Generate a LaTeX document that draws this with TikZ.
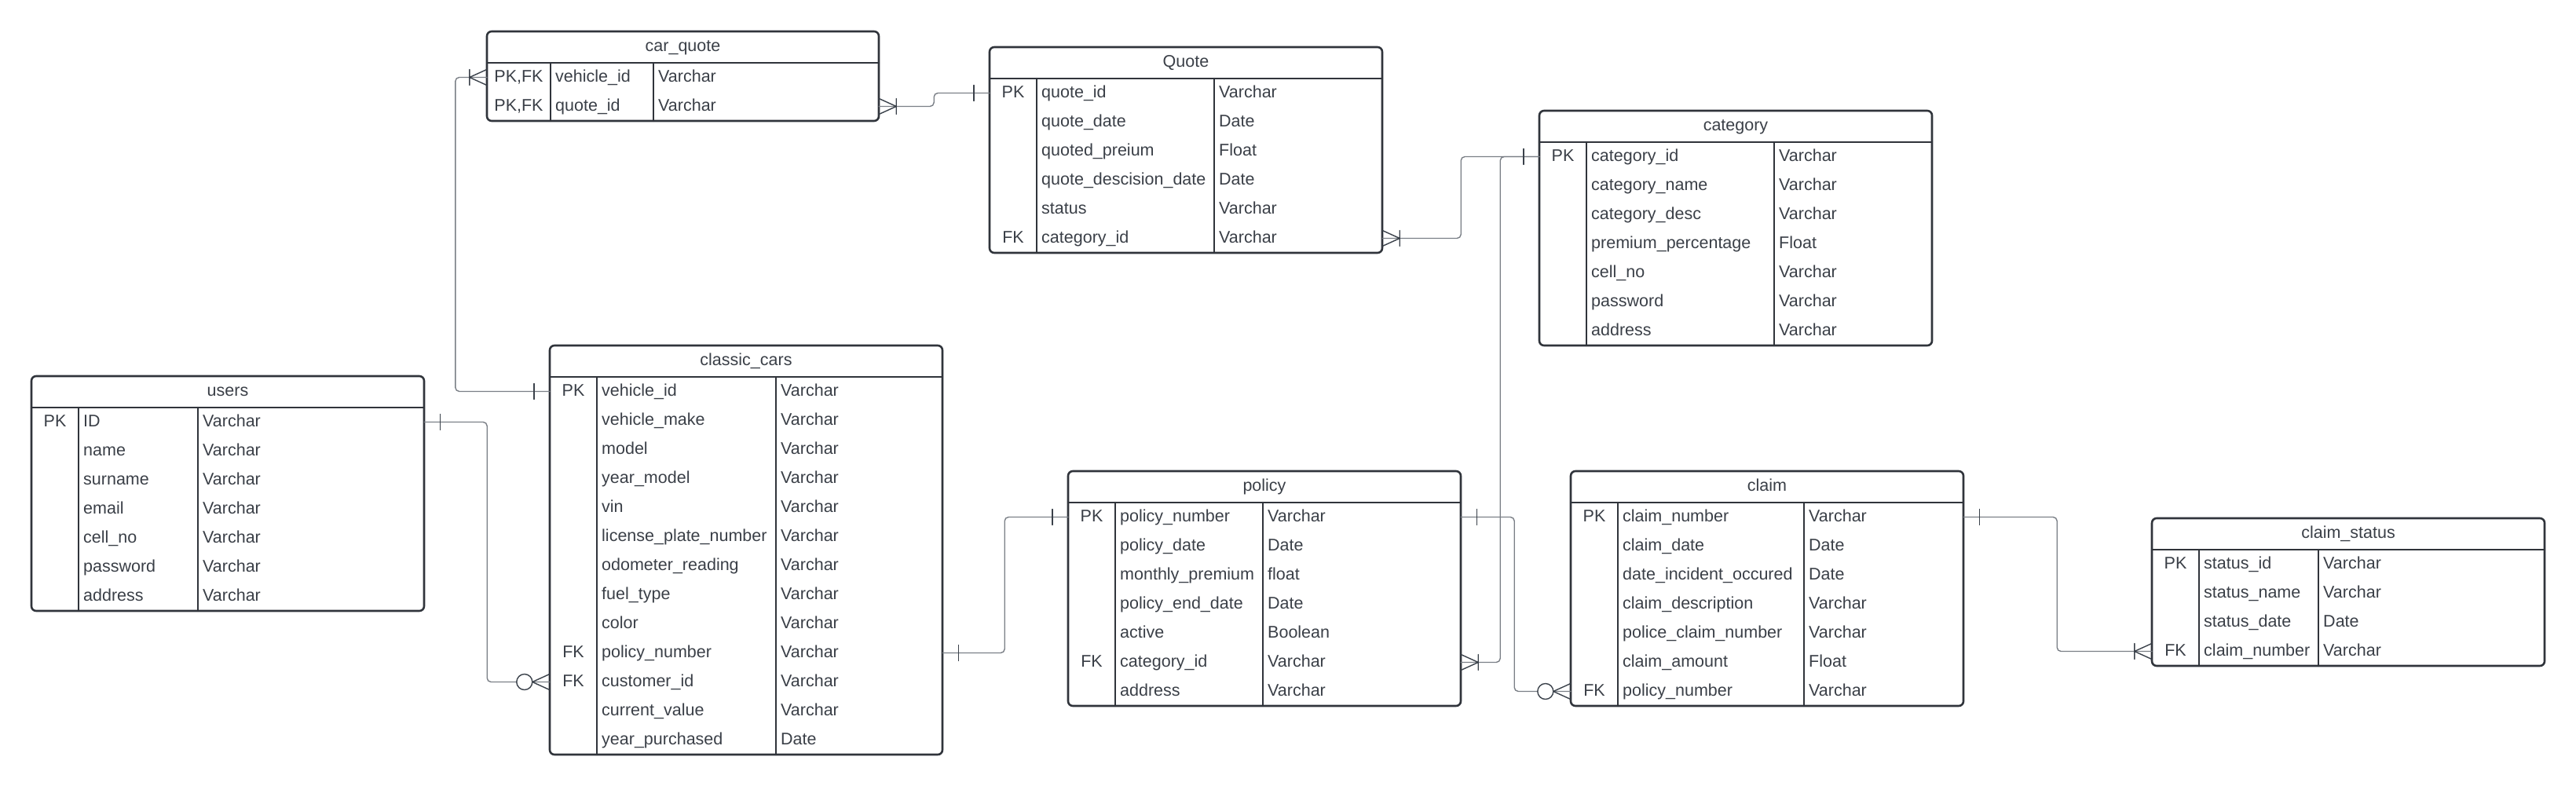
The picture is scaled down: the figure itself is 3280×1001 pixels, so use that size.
\documentclass[tikz,border=0pt]{standalone}
\usepackage{fontspec}
\setmainfont{Liberation Sans}
\definecolor{framecol}{HTML}{30343B}
\definecolor{txtcol}{HTML}{3A3F47}
\definecolor{linecol}{HTML}{7A7F86}
\definecolor{tipcol}{HTML}{3A414A}
\tikzset{
	tabframe/.style={draw=framecol,line width=2.6pt,rounded corners=6pt},
	tabline/.style={draw=framecol,line width=2.4pt},
	tabtext/.style={inner sep=0pt,text height=15.4pt,text depth=0pt,text=txtcol,font=\fontsize{21.5}{24}\selectfont},
	celltext/.style={tabtext,yshift=1.5pt},
	tabrow/.style={inner sep=0pt,minimum height=37pt},
	conn/.style={draw=linecol,line width=1.4pt,rounded corners=5pt},
	tipline/.style={draw=tipcol,line width=1.4pt},
	onebar/.pic={\draw[tipline] (20,-10) -- (20,10);},
	manybar/.pic={\draw[tipline] (0,-10) -- (22,0) -- (0,10) (22,-10) -- (22,10);},
	zeromany/.pic={\draw[tipline] (0,-10) -- (22,0) -- (0,10); \draw[tipline,fill=white] (32,0) circle (10pt);}
}
% name, x, y, width, key column, type column, rows, title, fields
\newcommand{\erdtable}[9]{%
	\draw[tabframe] (#2,#3) rectangle ++(#4,{40+#7*37});
	\draw[tabline] (#2,{#3+40}) -- ++(#4,0);
	\draw[tabline] ({#2+#5},{#3+40}) -- ++(0,{#7*37});
	\draw[tabline] ({#2+#6},{#3+40}) -- ++(0,{#7*37});
	\node[tabtext] (#1) at ({#2+#4/2},{#3+18}) {#8};
	\foreach \k/\f/\t [count=\i] in {#9}{
		\node[tabrow,minimum width=#4pt] (#1-\i) at ({#2+#4/2},{#3+40+(\i-0.5)*37}) {};
		\node[celltext] (#1-k\i) at ({#2+#5/2},{#3+40+(\i-0.5)*37}) {\k};
		\node[celltext,anchor=west] (#1-f\i) at ({#2+#5+6},{#3+40+(\i-0.5)*37}) {\f};
		\node[celltext,anchor=west] (#1-t\i) at ({#2+#6+6},{#3+40+(\i-0.5)*37}) {\t};
	}}
\begin{document}
\begin{tikzpicture}[x=1pt,y=-1pt,line cap=round,line join=round]
	\useasboundingbox (0,0) rectangle (3280,1001);
	\erdtable{users}{40}{479}{500}{60}{212}{7}{users}{PK/ID/Varchar, {}/name/Varchar, {}/surname/Varchar, {}/email/Varchar, {}/cell\_no/Varchar, {}/password/Varchar, {}/address/Varchar}
	\erdtable{carquote}{620}{40}{499}{81}{212}{2}{car\_quote}{{PK,FK}/vehicle\_id/Varchar, {PK,FK}/quote\_id/Varchar}
	\erdtable{quote}{1260}{60}{500}{60}{286}{6}{Quote}{PK/quote\_id/Varchar, {}/quote\_date/Date, {}/quoted\_preium/Float, {}/quote\_descision\_date/Date, {}/status/Varchar, FK/category\_id/Varchar}
	\erdtable{category}{1960}{141}{500}{60}{299}{7}{category}{PK/category\_id/Varchar, {}/category\_name/Varchar, {}/category\_desc/Varchar, {}/premium\_percentage/Float, {}/cell\_no/Varchar, {}/password/Varchar, {}/address/Varchar}
	\erdtable{classiccars}{700}{440}{500}{60}{288}{13}{classic\_cars}{PK/vehicle\_id/Varchar, {}/vehicle\_make/Varchar, {}/model/Varchar, {}/year\_model/Varchar, {}/vin/Varchar, {}/license\_plate\_number/Varchar, {}/odometer\_reading/Varchar, {}/fuel\_type/Varchar, {}/color/Varchar, FK/policy\_number/Varchar, FK/customer\_id/Varchar, {}/current\_value/Varchar, {}/year\_purchased/Date}
	\erdtable{policy}{1360}{600}{500}{60}{248}{7}{policy}{PK/policy\_number/Varchar, {}/policy\_date/Date, {}/monthly\_premium/float, {}/policy\_end\_date/Date, {}/active/Boolean, FK/category\_id/Varchar, {}/address/Varchar}
	\erdtable{claim}{2000}{600}{500}{60}{297}{7}{claim}{PK/claim\_number/Varchar, {}/claim\_date/Date, {}/date\_incident\_occured/Date, {}/claim\_description/Varchar, {}/police\_claim\_number/Varchar, {}/claim\_amount/Float, FK/policy\_number/Varchar}
	\erdtable{claimstatus}{2740}{660}{500}{60}{212}{4}{claim\_status}{PK/status\_id/Varchar, {}/status\_name/Varchar, {}/status\_date/Date, FK/claim\_number/Varchar}
	\draw[conn] (classiccars-1.west) -- ++(-120,0) |- (carquote-1.west);
	\draw[conn] (users-1.east) -- ++(80,0) |- (classiccars-11.west);
	\draw[conn] (carquote-2.east) -- ++(70,0) |- (quote-1.west);
	\draw[conn] (quote-6.east) -- ++(100,0) |- (category-1.west);
	\draw[conn] (policy-6.east) -- ++(50,0) |- (category-1.west);
	\draw[conn] (classiccars-10.east) -- ++(79,0) |- (policy-1.west);
	\draw[conn] (policy-1.east) -- ++(68,0) |- (claim-7.west);
	\draw[conn] (claim-1.east) -- ++(119,0) |- (claimstatus-4.west);
	\pic[xscale=-1] at (classiccars-1.west) {onebar};
	\pic[xscale=-1] at (carquote-1.west) {manybar};
	\pic at (users-1.east) {onebar};
	\pic[xscale=-1] at (classiccars-11.west) {zeromany};
	\pic at (carquote-2.east) {manybar};
	\pic[xscale=-1] at (quote-1.west) {onebar};
	\pic at (quote-6.east) {manybar};
	\pic[xscale=-1] at (category-1.west) {onebar};
	\pic at (policy-6.east) {manybar};
	\pic at (classiccars-10.east) {onebar};
	\pic[xscale=-1] at (policy-1.west) {onebar};
	\pic at (policy-1.east) {onebar};
	\pic[xscale=-1] at (claim-7.west) {zeromany};
	\pic at (claim-1.east) {onebar};
	\pic[xscale=-1] at (claimstatus-4.west) {manybar};
\end{tikzpicture}
\end{document}
